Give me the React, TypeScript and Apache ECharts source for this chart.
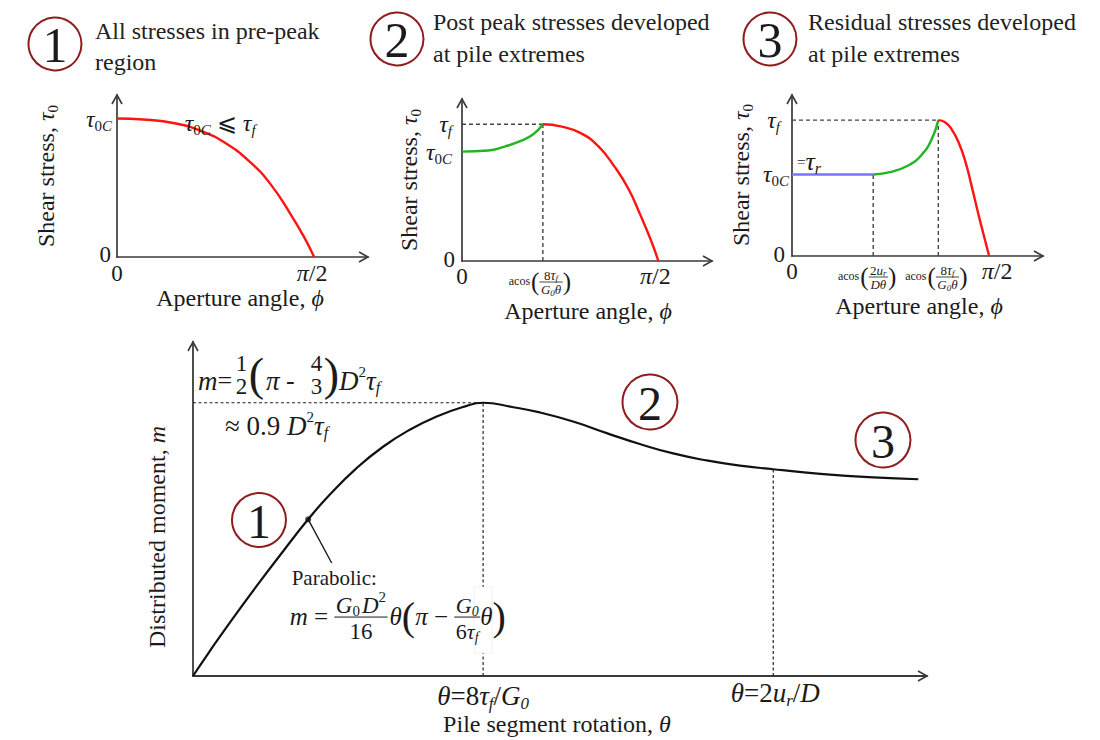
import React, { useEffect, useRef } from "react";
import * as echarts from "echarts";

const FONT = "Liberation Serif, Times New Roman, DejaVu Serif, serif";
const INK = "#1b1b1b";
const AXIS_INK = "#3a3a3a";
const RING = "#8f1d1d";
const RED = "#ff1414";
const GREEN = "#22b522";
const BLUE = "#7474ff";

const HALF_PI = 1.5708;

// Panel 1 – pre-peak stresses: τ0/τ0C against aperture angle φ (rad)
const prePhi = [0, 0.21, 0.47, 0.69, 0.87, 1.06, 1.22, 1.38, 1.49, HALF_PI];
const preTau = [1.0, 0.993, 0.964, 0.903, 0.819, 0.686, 0.53, 0.314, 0.145, 0];

// Panel 2 – post-peak stresses: τ0/τf
const postPeakPhi = 0.647;
const postTau0C = 0.8;
const postGreenPhi = [0, 0.21, 0.34, 0.47, 0.57, 0.647];
const postGreenTau = [0.8, 0.808, 0.837, 0.878, 0.927, 1.0];
const postRedPhi = [0.647, 0.79, 0.95, 1.09, 1.22, 1.33, 1.43, 1.51, HALF_PI];
const postRedTau = [1.0, 0.985, 0.935, 0.84, 0.69, 0.53, 0.33, 0.155, 0];

// Panel 3 – residual stresses: τ0/τf
const resResidualPhi = 0.647;
const resPeakPhi = 1.166;
const resTauR = 0.6;
const resBluePhi = [0, 0.647];
const resBlueTau = [0.6, 0.6];
const resGreenPhi = [0.647, 0.79, 0.93, 1.03, 1.11, 1.166];
const resGreenTau = [0.6, 0.619, 0.668, 0.742, 0.853, 1.0];
const resRedPhi = [1.166, 1.22, 1.27, 1.33, 1.38, 1.43, 1.49, 1.54, HALF_PI];
const resRedTau = [1.0, 0.985, 0.935, 0.83, 0.7, 0.52, 0.29, 0.11, 0];

// Main – distributed moment m (× D²τf) against rotation θ (× 8τf/G0)
const mTheta = [0, 0.058, 0.127, 0.219, 0.31, 0.397, 0.471, 0.563, 0.655, 0.747, 0.838, 0.931, 1.0,
  1.1, 1.195, 1.31, 1.426, 1.54, 1.655, 1.77, 1.885, 2.0, 2.115, 2.23, 2.345, 2.5];
const mValue = [0, 0.082, 0.176, 0.296, 0.41, 0.516, 0.597, 0.684, 0.755, 0.811, 0.854, 0.886, 0.9,
  0.886, 0.868, 0.838, 0.8, 0.764, 0.733, 0.71, 0.693, 0.681, 0.67, 0.661, 0.654, 0.648];
const mPeakTheta = 1.0;
const mPeak = 0.9;
const mResidualTheta = 2.0;
const mResidual = 0.681;
const mMark = [0.397, 0.516];
const mLeaderEnd = [0.478, 0.372];

// axis extents [x max, y max] per grid
const RANGES = [
  [2.0, 1.17],
  [2.0, 1.185],
  [2.0, 1.185],
  [2.53, 1.1],
];

const GRIDS = [
  { left: 117, top: 95, width: 251, height: 162 },
  { left: 462, top: 99, width: 250, height: 162 },
  { left: 792, top: 95, width: 251, height: 161 },
  { left: 193, top: 342, width: 734, height: 334 },
];

// ---------- small math-text layout helpers ----------
type Txt = { s: string; size: number; it?: boolean; dy?: number; dx?: number };
type Frac = { num: Part[]; den: Part[]; dy?: number; dx?: number; up?: number; down?: number; bar?: number; pad?: number };
type Part = Txt | Frac;
const isTxt = (p: Part): p is Txt => (p as Txt).s !== undefined;

let mctx: CanvasRenderingContext2D | null = null;
function tw(s: string, size: number, it?: boolean) {
  if (!mctx) mctx = document.createElement("canvas").getContext("2d");
  mctx!.font = `${it ? "italic " : ""}${size}px ${FONT}`;
  return mctx!.measureText(s).width;
}
const T = (s: string, size = 24, dy = 0, dx = 0): Txt => ({ s, size, it: false, dy, dx });
const I = (s: string, size = 24, dy = 0, dx = 0): Txt => ({ s, size, it: true, dy, dx });
const F = (num: Part[], den: Part[], o: Partial<Frac> = {}): Frac => ({ num, den, ...o });

function maxSize(parts: Part[]): number {
  return Math.max(...parts.map((p) => (isTxt(p) ? p.size : maxSize(p.num))));
}
function partW(p: Part): number {
  if (isTxt(p)) return (p.dx || 0) + tw(p.s, p.size, p.it);
  return (p.dx || 0) + Math.max(rowW(p.num), rowW(p.den)) + 2 * (p.pad ?? 1.5);
}
function rowW(parts: Part[]) {
  return parts.reduce((a, p) => a + partW(p), 0);
}
function rowEls(parts: Part[], x: number, y: number, out: any[]) {
  let cx = x;
  for (const p of parts) {
    cx += p.dx || 0;
    if (isTxt(p)) {
      out.push({
        type: "text",
        x: cx,
        y: y + (p.dy || 0),
        z: 60,
        style: {
          text: p.s,
          fontSize: p.size,
          fontFamily: FONT,
          fontStyle: p.it ? "italic" : "normal",
          fill: INK,
          align: "left",
          verticalAlign: "middle",
        },
      });
      cx += tw(p.s, p.size, p.it);
    } else {
      const pad = p.pad ?? 1.5;
      const nw = rowW(p.num);
      const dw = rowW(p.den);
      const W = Math.max(nw, dw) + 2 * pad;
      const by = y + (p.dy ?? 2);
      const ns = maxSize(p.num);
      const ds = maxSize(p.den);
      if ((p.bar ?? 1) > 0) {
        out.push({ type: "line", z: 60, shape: { x1: cx, y1: by, x2: cx + W, y2: by }, style: { stroke: INK, lineWidth: p.bar ?? 1 } });
      }
      rowEls(p.num, cx + (W - nw) / 2, by - (p.up ?? 2.5 + 0.34 * ns), out);
      rowEls(p.den, cx + (W - dw) / 2, by + (p.down ?? 2.5 + 0.33 * ds), out);
      cx += W;
    }
  }
  return cx;
}
function mathRow(parts: Part[], x: number, y: number, align: "left" | "center" | "right" = "left", rotation = 0) {
  const W = rowW(parts);
  const start = align === "left" ? 0 : align === "center" ? -W / 2 : -W;
  const children: any[] = [];
  rowEls(parts, start, 0, children);
  return { type: "group", x, y, rotation, children, silent: true, z: 60 };
}

// ---------- option ----------
function axisPair(g: number) {
  const base = {
    type: "value",
    gridIndex: g,
    min: 0,
    axisLine: { show: true, onZero: false, lineStyle: { color: AXIS_INK, width: g === 3 ? 1.8 : 1.7 } },
    axisTick: { show: false },
    axisLabel: { show: false },
    splitLine: { show: false },
  };
  return {
    x: { ...base, max: RANGES[g][0] },
    y: { ...base, max: RANGES[g][1] },
  };
}

function line(g: number, xs: number[], ys: number[], color: string, width: number, type: any = "solid", smooth: number | boolean = false, z = 3) {
  return {
    type: "line",
    xAxisIndex: g,
    yAxisIndex: g,
    data: xs.map((x, i) => [x, ys[i]]),
    showSymbol: false,
    symbol: "none",
    smooth,
    lineStyle: { color, width, type },
    silent: true,
    z,
  };
}

function buildOption() {
  const axes = [0, 1, 2, 3].map(axisPair);
  const dashP = [4, 3];
  const dashM = [3, 2.5];
  return {
    animation: false,
    backgroundColor: "#ffffff",
    grid: GRIDS,
    xAxis: axes.map((a) => a.x),
    yAxis: axes.map((a) => a.y),
    series: [
      // panel 1
      line(0, prePhi, preTau, RED, 2.4, "solid", 0.5),
      // panel 2
      line(1, [0, postPeakPhi], [1, 1], "#444", 1.4, dashP, false, 2),
      line(1, [postPeakPhi, postPeakPhi], [0, 1], "#444", 1.4, dashP, false, 2),
      line(1, postGreenPhi, postGreenTau, GREEN, 2.4, "solid", 0.5),
      line(1, postRedPhi, postRedTau, RED, 2.4, "solid", 0.5),
      // panel 3
      line(2, [0, resPeakPhi], [1, 1], "#444", 1.4, dashP, false, 2),
      line(2, [resPeakPhi, resPeakPhi], [0, 1], "#444", 1.4, dashP, false, 2),
      line(2, [resResidualPhi, resResidualPhi], [0, resTauR], "#444", 1.4, dashP, false, 2),
      line(2, resBluePhi, resBlueTau, BLUE, 2.4),
      line(2, resGreenPhi, resGreenTau, GREEN, 2.4, "solid", 0.5),
      line(2, resRedPhi, resRedTau, RED, 2.4, "solid", 0.5),
      // main
      line(3, [0, mPeakTheta], [mPeak, mPeak], "#222", 1.2, dashM, false, 2),
      line(3, [mPeakTheta, mPeakTheta], [0, mPeak], "#222", 1.2, dashM, false, 2),
      line(3, [mResidualTheta, mResidualTheta], [0, mResidual], "#222", 1.2, dashM, false, 2),
      line(3, mTheta, mValue, "#111", 2.2, "solid", 0.5),
      line(3, [mMark[0], mLeaderEnd[0]], [mMark[1], mLeaderEnd[1]], "#111", 1.3),
      {
        type: "scatter",
        xAxisIndex: 3,
        yAxisIndex: 3,
        data: [mMark],
        symbolSize: 6,
        itemStyle: { color: "#111" },
        silent: true,
        z: 5,
      },
    ],
  };
}

// ---------- annotations ----------
function buildGraphics(chart: echarts.ECharts) {
  const px = (g: number, x: number, y: number) => chart.convertToPixel({ gridIndex: g }, [x, y]) as number[];
  const els: any[] = [];
  const add = (e: any) => els.push({ z: 60, silent: true, ...e });

  // arrow heads on every axis
  [0, 1, 2, 3].forEach((g) => {
    const [xm, ym] = RANGES[g];
    const xe = px(g, xm, 0);
    const ye = px(g, 0, ym);
    const st = { stroke: AXIS_INK, lineWidth: 1.6, fill: "none" };
    add({ type: "polyline", shape: { points: [[xe[0] - 9, xe[1] - 5], [xe[0], xe[1]], [xe[0] - 9, xe[1] + 5]] }, style: st });
    add({ type: "polyline", shape: { points: [[ye[0] - 5, ye[1] + 9], [ye[0], ye[1]], [ye[0] + 5, ye[1] + 9]] }, style: st });
  });

  const tau0C: Part[] = [I("τ"), T("0", 15, 7), I("C", 15, 7)];
  const tauF: Part[] = [I("τ"), I("f", 15, 7)];
  const piHalf: Part[] = [I("π", 24), T("/2", 24)];
  const zero: Part[] = [T("0", 23)];
  const shear: Part[] = [T("Shear stress, "), I("τ"), T("0", 15, 7)];
  const aperture: Part[] = [T("Aperture angle, "), I("ϕ")];
  const acos8: Part[] = [
    T("acos", 12),
    T("(", 25, 0, 1),
    F([T("8", 13), I("τ", 14), I("f", 9, 3)], [I("G", 13), I("0", 9, 3), I("θ", 13)], { bar: 0.8, dy: 1, up: 7, down: 7.5 }),
    T(")", 25),
  ];
  const acos2: Part[] = [
    T("acos", 12),
    T("(", 25, 0, 1),
    F([T("2", 13), I("u", 13), I("r", 9, 3)], [I("D", 13), I("θ", 13)], { bar: 0.8, dy: 1, up: 7, down: 7.5 }),
    T(")", 25),
  ];

  // panel 1
  {
    const o = px(0, 0, 0);
    const t = px(0, 0, 1);
    const h = px(0, HALF_PI, 0);
    add(mathRow(tau0C, t[0] - 5, t[1], "right"));
    add(mathRow(zero, o[0] - 6, o[1] - 3, "right"));
    add(mathRow(zero, o[0], o[1] + 16, "center"));
    add(mathRow(piHalf, h[0] - 2, h[1] + 16, "center"));
    const n = px(0, 0.54, 1);
    add(mathRow([I("τ"), T("0", 15, 7), I("C", 15, 7), T(" ⩽ ", 24), I("τ"), I("f", 15, 7)], n[0], n[1] + 4));
    add(mathRow(shear, 46, 176, "center", Math.PI / 2));
    add(mathRow(aperture, 240, 298, "center"));
  }
  // panel 2
  {
    const o = px(1, 0, 0);
    const tf = px(1, 0, 1);
    const tc = px(1, 0, postTau0C);
    const pk = px(1, postPeakPhi, 0);
    const h = px(1, HALF_PI, 0);
    add(mathRow(tauF, tf[0] - 10, tf[1], "right"));
    add(mathRow(tau0C, tc[0] - 10, tc[1], "right"));
    add(mathRow(zero, o[0] - 7, o[1] - 2, "right"));
    add(mathRow(zero, o[0], o[1] + 15, "center"));
    add(mathRow(acos8, pk[0] - 3, pk[1] + 20, "center"));
    add(mathRow(piHalf, h[0] - 3, h[1] + 15, "center"));
    add(mathRow(shear, 409, 180, "center", Math.PI / 2));
    add(mathRow(aperture, 588, 311, "center"));
  }
  // panel 3
  {
    const o = px(2, 0, 0);
    const tf = px(2, 0, 1);
    const tr = px(2, 0, resTauR);
    const r1 = px(2, resResidualPhi, 0);
    const r2 = px(2, resPeakPhi, 0);
    const h = px(2, HALF_PI, 0);
    add(mathRow(tauF, tf[0] - 12, tf[1], "right"));
    add(mathRow(tau0C, tr[0] - 3, tr[1], "right"));
    add(mathRow([T("=", 15, 1), I("τ", 26), I("r", 16, 7)], tr[0] + 5, tr[1] - 13));
    add(mathRow(zero, o[0] - 7, o[1] - 2, "right"));
    add(mathRow(zero, o[0], o[1] + 15, "center"));
    add(mathRow(acos2, r1[0] - 6, r1[1] + 20, "center"));
    add(mathRow(acos8, r2[0] - 2, r2[1] + 20, "center"));
    add(mathRow(piHalf, h[0] + 8, h[1] + 15, "center"));
    add(mathRow(shear, 741, 175, "center", Math.PI / 2));
    add(mathRow(aperture, 919, 306, "center"));
  }
  // main chart
  {
    const pk = px(3, mPeakTheta, 0);
    const rs = px(3, mResidualTheta, 0);
    const top = px(3, 0, mPeak);
    const le = px(3, mLeaderEnd[0], mLeaderEnd[1]);
    add(mathRow([I("θ", 27), T("=", 27), T("8", 27), I("τ", 27), I("f", 17, 7), T("/", 27), I("G", 27), I("0", 17, 7)], pk[0], pk[1] + 20, "center"));
    add(mathRow([I("θ", 27), T("=", 27), T("2", 27), I("u", 27), I("r", 17, 7), T("/", 27), I("D", 27)], rs[0] + 2, rs[1] + 17, "center"));
    add(mathRow([T("Pile segment rotation, "), I("θ")], 557, 724, "center"));
    add(mathRow([T("Distributed moment, "), I("m")], 157, 537, "center", Math.PI / 2));

    add(
      mathRow(
        [
          I("m", 27),
          T("=", 26),
          F([T("1", 23)], [T("2", 23)], { bar: 0, dy: -6, up: 11.5, down: 11.5, dx: 2 }),
          T("(", 46, -6),
          I("π", 27, 0, 2),
          T(" - ", 26),
          F([T("4", 23)], [T("3", 23)], { bar: 0, dy: -6, up: 11.5, down: 11.5, dx: 8 }),
          T(")", 46, -6),
          I("D", 27),
          T("2", 15, -9),
          I("τ", 27),
          I("f", 16, 7),
        ],
        top[0] + 5,
        top[1] - 22
      )
    );
    add(mathRow([T("≈ 0.9 ", 27), I("D", 27), T("2", 15, -9), I("τ", 27), I("f", 16, 7)], top[0] + 32, top[1] + 23));

    // white patch where the formula crosses the dashed guide
    add({ type: "rect", shape: { x: pk[0] - 9, y: le[1] + 24, width: 18, height: 66 }, style: { fill: "#fff", stroke: "#ececec", lineWidth: 0.8 }, z: 20 });
    add(mathRow([T("Parabolic:", 21)], le[0] - 40, le[1] + 15));
    add(
      mathRow(
        [
          I("m", 25),
          T(" = ", 25),
          F([I("G", 23), T("0", 15, 6), I("D", 23, 0, 2), T("2", 15, -8)], [T("16", 23)], { bar: 1, dy: 1, up: 12, down: 14.5 }),
          I("θ", 25, 0, 2),
          T("(", 40),
          I("π", 25),
          T(" − ", 25),
          F([I("G", 22), I("0", 14, 6)], [T("6", 22), I("τ", 22), I("f", 14, 6)], { bar: 1, dy: 1, up: 12, down: 14 }),
          I("θ", 25),
          T(")", 40),
        ],
        le[0] - 42,
        le[1] + 53
      )
    );
  }

  // numbered region markers
  const ring = (cx: number, cy: number, r: number, n: string, size: number) => {
    add({ type: "circle", shape: { cx, cy, r }, style: { fill: "transparent", stroke: RING, lineWidth: 2 } });
    add({
      type: "text",
      x: cx,
      y: cy + 1,
      style: { text: n, fontSize: size, fontFamily: FONT, fill: INK, align: "center", verticalAlign: "middle" },
    });
  };
  ring(55, 44, 26.5, "1", 50);
  ring(397, 39, 26.5, "2", 50);
  ring(770, 39, 26.5, "3", 50);
  ring(259, 520, 27, "1", 48);
  ring(650, 402, 27.5, "2", 48);
  ring(883, 440, 27.5, "3", 48);

  // panel headings
  const title = (x: number, y: number, s: string) =>
    add({ type: "text", x, y, style: { text: s, fontSize: 24, fontFamily: FONT, fill: "#222", align: "left", verticalAlign: "middle" } });
  title(95, 31, "All stresses in pre-peak");
  title(95, 62, "region");
  title(433, 22, "Post peak stresses developed");
  title(433, 54, "at pile extremes");
  title(808, 22, "Residual stresses developed");
  title(808, 54, "at pile extremes");

  return els;
}

export default function App() {
  const ref = useRef<HTMLDivElement>(null);
  useEffect(() => {
    document.body.style.margin = "0";
    const chart = echarts.init(ref.current!, null, { renderer: "svg" });
    chart.setOption(buildOption() as any);
    chart.setOption({ graphic: { elements: buildGraphics(chart) } } as any);
    return () => chart.dispose();
  }, []);
  return <div ref={ref} style={{ width: 1100, height: 740, background: "#fff" }} />;
}
